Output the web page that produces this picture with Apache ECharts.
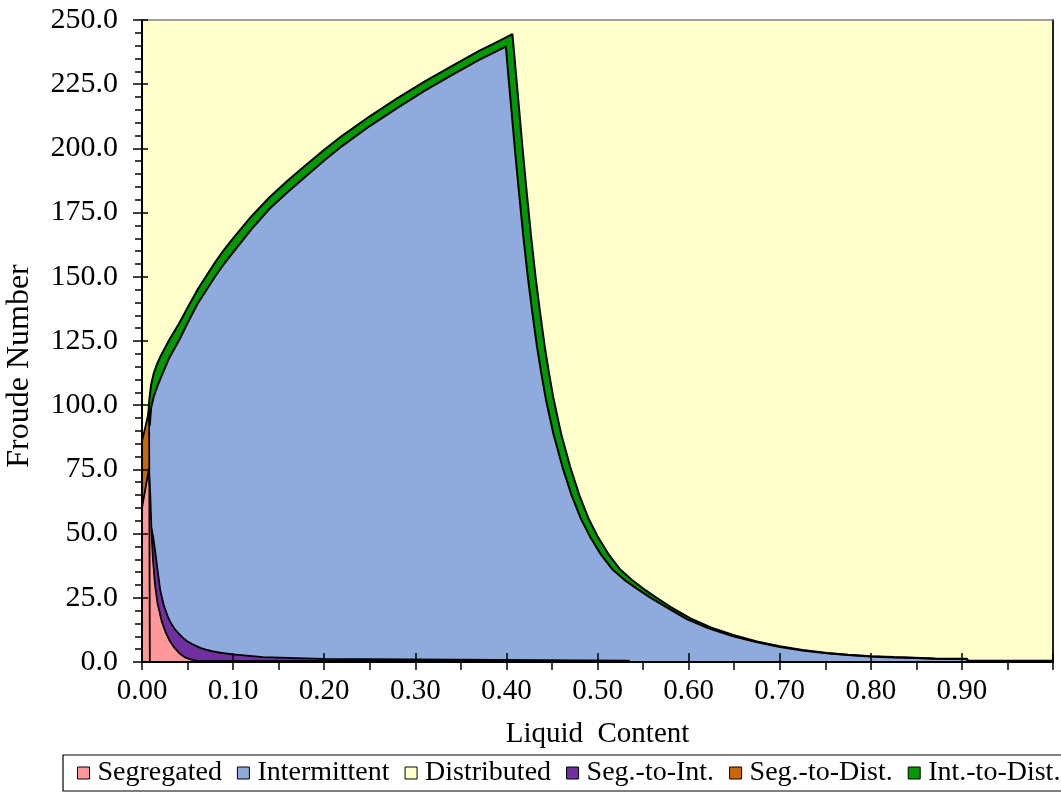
<!DOCTYPE html>
<html>
<head>
<meta charset="utf-8">
<script src="https://cdn.jsdelivr.net/npm/echarts@6/dist/echarts.min.js"></script>
<style>
html,body{margin:0;padding:0;background:#fff;}
#chart{width:1061px;height:793px;}
</style>
</head>
<body>
<div id="chart"></div>
<script>
// ---- data (x = liquid content, y = Froude number boundary) ----
const legendNames = ['Segregated', 'Intermittent', 'Distributed', 'Seg.-to-Int.', 'Seg.-to-Dist.', 'Int.-to-Dist.'];

// Segregated (pink) upper boundary
const segregatedX = [0, 0.004, 0.0075, 0.009, 0.0105, 0.012, 0.0143, 0.017, 0.0215, 0.026, 0.030, 0.035, 0.041, 0.047, 0.054, 0.060, 0.534, 0.536];
const segregatedY = [60, 68, 75, 66, 50, 40, 30, 23, 16, 11.5, 8.5, 5.8, 3.4, 1.8, 0.9, 0.4, 0.4, 0];

// Seg.-to-Int. (purple) upper boundary
const segToIntX = [0.0105, 0.0125, 0.0145, 0.017, 0.020, 0.024, 0.028, 0.031, 0.036, 0.041, 0.045, 0.050, 0.056, 0.064, 0.070, 0.078, 0.086, 0.100, 0.115, 0.133, 0.135, 0.198, 0.200, 0.534, 0.536];
const segToIntY = [52, 48, 43, 36, 28, 22, 18, 15.6, 12.8, 10.8, 9.4, 8.0, 6.8, 5.5, 4.8, 4.1, 3.6, 3.0, 2.5, 1.9, 1.2, 1.2, 0.5, 0.5, 0];

// Seg.-to-Dist. (orange) upper boundary
const segToDistX = [0, 0.004, 0.0078, 0.0086];
const segToDistY = [86, 92, 98, 0];

// Intermittent (blue) upper boundary
const intermittentX = [0.0085, 0.010, 0.013, 0.017, 0.021, 0.030, 0.041, 0.050, 0.061, 0.070, 0.081, 0.090, 0.100, 0.120, 0.140, 0.160, 0.180, 0.200, 0.220, 0.250, 0.280, 0.310, 0.340, 0.370, 0.390, 0.3995, 0.4015, 0.4055, 0.4095, 0.4135, 0.4185, 0.4235, 0.4285, 0.4335, 0.4385, 0.4435, 0.4515, 0.4615, 0.4715, 0.4815, 0.4915, 0.5035, 0.5165, 0.5295, 0.5435, 0.5585, 0.575, 0.598, 0.622, 0.648, 0.674, 0.699, 0.725, 0.752, 0.775, 0.800, 0.825, 0.840, 0.842, 0.870, 0.905, 0.907, 1.0];
const intermittentY = [92, 99, 103.5, 107.5, 111, 118.5, 125.5, 132, 139.5, 144.5, 150.5, 155, 159.5, 168.5, 176.5, 183, 189.2, 195.3, 201, 208.7, 215.7, 222.4, 228.5, 234.5, 238, 239.6, 231, 215, 199, 184, 166, 150, 136, 123, 112, 102, 89, 76, 65, 56, 49, 42, 36, 32, 28.5, 25, 21.5, 16.7, 13.1, 10.1, 7.8, 5.9, 4.5, 3.4, 2.7, 2.1, 1.8, 1.7, 1.4, 1.3, 1.2, 0.4, 0.4];

// Int.-to-Dist. (green) upper boundary
const intToDistX = [0.0065, 0.008, 0.010, 0.013, 0.017, 0.021, 0.030, 0.041, 0.050, 0.061, 0.070, 0.081, 0.090, 0.100, 0.120, 0.140, 0.160, 0.180, 0.200, 0.220, 0.250, 0.280, 0.310, 0.340, 0.370, 0.390, 0.4066, 0.410, 0.414, 0.418, 0.422, 0.427, 0.432, 0.437, 0.442, 0.447, 0.452, 0.460, 0.470, 0.480, 0.490, 0.500, 0.512, 0.525, 0.5375, 0.5505, 0.565, 0.580, 0.602, 0.625, 0.650, 0.675, 0.700, 0.725, 0.752, 0.775, 0.800, 0.825, 0.840, 0.842, 0.870, 0.905, 0.907, 1.0];
const intToDistY = [94, 102, 108, 112.5, 116.5, 119.5, 125.5, 132, 138, 145, 150, 156, 160.5, 165, 173.5, 181, 187.5, 193.5, 199.5, 205, 212.5, 219.5, 226, 232, 238, 241.5, 244.5, 231, 215, 199, 184, 166, 150, 136, 123, 112, 102, 89, 76, 65, 56, 49, 42, 36, 32, 28.5, 25, 21.5, 17, 13.4, 10.4, 8, 6.1, 4.7, 3.5, 2.8, 2.2, 1.9, 1.8, 1.5, 1.4, 1.3, 0.5, 0.5];

// Distributed (yellow) upper boundary
const distributedX = [0, 1.0];
const distributedY = [250, 250];

const xMin = 0, xMax = 1.0, xStep = 0.1;
const yMin = 0, yMax = 250, yStep = 25;

function pairs(xs, ys) { return xs.map((x, i) => [x, ys[i]]); }

const FONT = 'Liberation Serif';
function areaSeries(name, xs, ys, fill, lineW) {
  return {
    name: name, type: 'line', symbol: 'none', showSymbol: false,
    xAxisIndex: 0, yAxisIndex: 0,
    data: pairs(xs, ys),
    itemStyle: { color: fill },
    lineStyle: { color: '#000', width: lineW },
    areaStyle: { color: fill, opacity: 1 },
    emphasis: { disabled: true },
    clip: true
  };
}

const chart = echarts.init(document.getElementById('chart'), null, { renderer: 'canvas' });
const option = {
  animation: false,
  backgroundColor: '#ffffff',
  textStyle: { fontFamily: FONT, color: '#000' },
  grid: { left: 142, right: 8, top: 20, bottom: 131, containLabel: false, outerBoundsMode: 'none' },
  legend: {
    data: legendNames,
    left: 63, top: 755, width: 1000,
    orient: 'horizontal',
    icon: 'rect',
    itemWidth: 12, itemHeight: 12, itemGap: 15,
    padding: [4, 3, 4, 14],
    borderColor: '#000', borderWidth: 1.2,
    itemStyle: { borderColor: '#000', borderWidth: 1 },
    textStyle: { fontFamily: FONT, fontSize: 28, color: '#000', padding: [0, 0, 0, 3] },
    selectedMode: false
  },
  xAxis: [
    {
      type: 'value', min: xMin, max: xMax, interval: xStep, position: 'bottom', z: 10,
      name: 'Liquid  Content', nameLocation: 'middle', nameGap: 58,
      nameTextStyle: { fontFamily: FONT, fontSize: 29, color: '#000' },
      axisLine: { show: true, onZero: false, lineStyle: { color: '#000', width: 2 } },
      axisTick: { show: true, inside: false, length: 8, lineStyle: { color: '#000', width: 1.5 } },
      minorTick: { show: true, splitNumber: 2, length: 8, lineStyle: { color: '#000', width: 1.5 } },
      axisLabel: { show: true, margin: 15, fontFamily: FONT, fontSize: 29, color: '#000', showMaxLabel: false,
                   formatter: v => v.toFixed(2) },
      splitLine: { show: false }
    },
    {
      type: 'value', min: xMin, max: xMax, interval: xStep, position: 'bottom', z: 10,
      axisLine: { show: false, onZero: false },
      axisTick: { show: true, inside: true, length: 9, lineStyle: { color: '#000', width: 1.5 } },
      axisLabel: { show: false }, splitLine: { show: false }
    },
    {
      type: 'value', min: xMin, max: xMax, position: 'top', z: 10,
      axisLine: { show: true, onZero: false, lineStyle: { color: '#808080', width: 1.5 } },
      axisTick: { show: false }, axisLabel: { show: false }, splitLine: { show: false }
    }
  ],
  yAxis: [
    {
      type: 'value', min: yMin, max: yMax, interval: yStep, position: 'left', z: 10,
      name: 'Froude Number', nameLocation: 'middle', nameGap: 106, nameRotate: 90,
      nameTextStyle: { fontFamily: FONT, fontSize: 32, color: '#000', padding: [0, 50, 0, 0] },
      axisLine: { show: true, onZero: false, lineStyle: { color: '#000', width: 2 } },
      axisTick: { show: true, inside: false, length: 9, lineStyle: { color: '#000', width: 1.5 } },
      minorTick: { show: true, splitNumber: 5, length: 7, lineStyle: { color: '#000', width: 1.5 } },
      axisLabel: { show: true, margin: 24, fontFamily: FONT, fontSize: 30, color: '#000',
                   formatter: v => v.toFixed(1) },
      splitLine: { show: false }
    },
    {
      type: 'value', min: yMin, max: yMax, interval: yStep, position: 'left', z: 10,
      axisLine: { show: false, onZero: false },
      axisTick: { show: true, inside: true, length: 6, lineStyle: { color: '#000', width: 1.5 } },
      axisLabel: { show: false }, splitLine: { show: false }
    },
    {
      type: 'value', min: yMin, max: yMax, position: 'right', z: 10,
      axisLine: { show: true, onZero: false, lineStyle: { color: '#222', width: 2 } },
      axisTick: { show: false }, axisLabel: { show: false }, splitLine: { show: false }
    }
  ],
  series: [
    areaSeries('Distributed', distributedX, distributedY, '#FFFFCC', 0),
    areaSeries('Int.-to-Dist.', intToDistX, intToDistY, '#009900', 2),
    areaSeries('Intermittent', intermittentX, intermittentY, '#8FAADC', 2),
    areaSeries('Seg.-to-Dist.', segToDistX, segToDistY, '#CC6600', 1.8),
    areaSeries('Seg.-to-Int.', segToIntX, segToIntY, '#7030A0', 1.8),
    areaSeries('Segregated', segregatedX, segregatedY, '#FF9999', 1.8)
  ]
};
chart.setOption(option);
</script>
</body>
</html>
